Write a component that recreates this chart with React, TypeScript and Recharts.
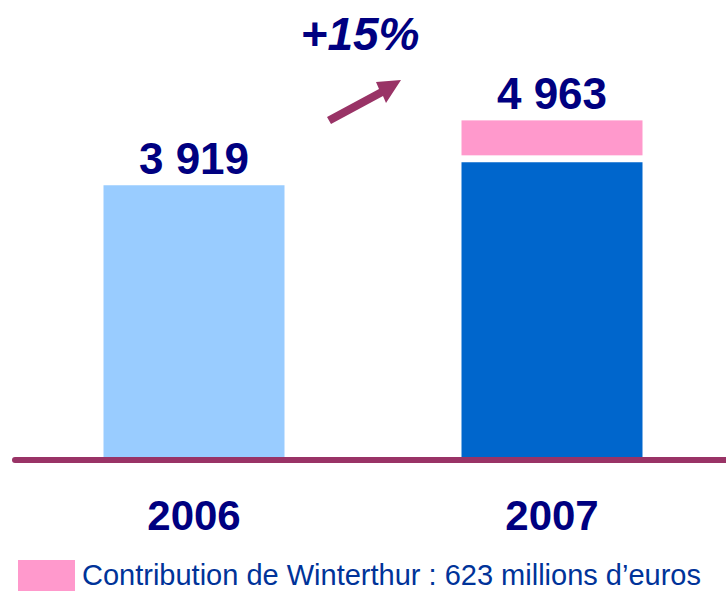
import React from 'react';
import { BarChart, Bar, XAxis, YAxis, LabelList, ReferenceLine, Customized, Cell } from 'recharts';

const categories = ['2006', '2007'];
const baseValues = [3919, 4250];
const winterthurValues = [0, 605];
const totalLabels = ['3 919', '4 963'];
const baseColors = ['#99CCFF', '#0066CC'];
const growthLabel = '+15%';
const legendLabel = 'Contribution de Winterthur : 623 millions d\u2019euros';

const data = categories.map((c, i) => ({
  year: c,
  base: baseValues[i],
  winterthur: winterthurValues[i],
  label: totalLabels[i],
}));

const FONT = '"Liberation Sans", Arial, sans-serif';
const NAVY = '#000080';
const PURPLE = '#993366';
const PINK = '#FF99CC';

const YearTick = (props: any) => {
  const { x, y, payload } = props;
  return (
    <text x={x} y={y + 73} textAnchor="middle" fontFamily={FONT} fontSize={42} fontWeight="bold" fill={NAVY}>
      {payload.value}
    </text>
  );
};

const TotalLabel = (props: any) => {
  const { x, y, width, value } = props;
  return (
    <text x={x + width / 2} y={y - 11} textAnchor="middle" fontFamily={FONT} fontSize={44} fontWeight="bold" fill={NAVY}>
      {value}
    </text>
  );
};

const PinkShape = (props: any) => {
  const { x, y, width, height } = props;
  if (!height || height <= 7) return null;
  return <rect x={x} y={y} width={width} height={height - 7} fill={PINK} />;
};

const AxisShape = (props: any) => {
  const { x1, x2, y1 } = props;
  return <line x1={x1} x2={x2} y1={y1 + 3} y2={y1 + 3} stroke={PURPLE} strokeWidth={6} strokeLinecap="round" />;
};

const Annotations = () => (
  <g>
    <text x={360} y={50} textAnchor="middle" fontFamily={FONT} fontSize={46} fontWeight="bold" fontStyle="italic" fill={NAVY}>
      {growthLabel}
    </text>
    <polygon
      points="327,117 379,89 376,82 401,80 386,103 383,96 331,124"
      fill={PURPLE}
    />
    <rect x={18} y={560} width={57} height={31} fill={PINK} />
    <text x={82} y={584.5} fontFamily={FONT} fontSize={29} fill="#003399">
      {legendLabel}
    </text>
  </g>
);

export default function App() {
  return (
    <div style={{ position: 'absolute', left: 0, top: 0, width: 726, height: 591, overflow: 'hidden', background: '#fff' }}>
      <BarChart
        width={732}
        height={591}
        data={data}
        margin={{ top: 41, right: 1, left: 15, bottom: 104 }}
        barCategoryGap={88.5}
      >
        <XAxis dataKey="year" axisLine={false} tickLine={false} tickSize={0} tickMargin={0} tick={<YearTick />} height={30} />
        <YAxis hide domain={[0, 6000]} />
        <Bar dataKey="base" stackId="a" isAnimationActive={false}>
          {data.map((d, i) => (
            <Cell key={d.year} fill={baseColors[i]} />
          ))}
        </Bar>
        <Bar dataKey="winterthur" stackId="a" fill={PINK} shape={<PinkShape />} isAnimationActive={false}>
          <LabelList dataKey="label" content={<TotalLabel />} />
        </Bar>
        <ReferenceLine y={0} shape={<AxisShape />} ifOverflow="visible" />
        <Customized component={<Annotations />} />
      </BarChart>
    </div>
  );
}
